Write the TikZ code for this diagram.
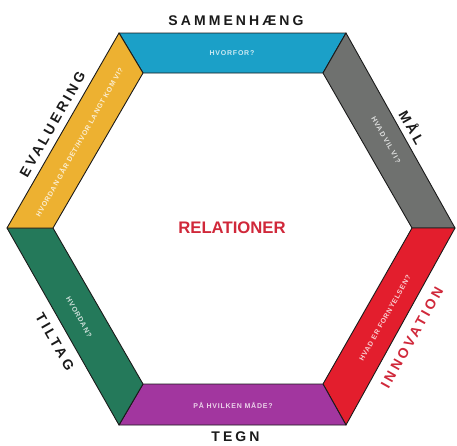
\documentclass[tikz,border=0pt]{standalone}
\usepackage{fontspec}
\setmainfont{Liberation Sans}
\newfontfamily\biglabel[LetterSpace=22]{Liberation Sans}
\newfontfamily\smalllabel[LetterSpace=11]{Liberation Sans}
\definecolor{cblue}{HTML}{1BA0C8}
\definecolor{cgray}{HTML}{6F716F}
\definecolor{cred}{HTML}{E31E2D}
\definecolor{cpurple}{HTML}{A2369F}
\definecolor{cgreen}{HTML}{24795A}
\definecolor{cyellow}{HTML}{EDB131}
\definecolor{titlered}{HTML}{D0283A}
\definecolor{outline}{HTML}{1A1A1A}
\tikzset{
  band/.style={draw=outline, line width=0.9pt, line join=round},
  outer/.style={font=\biglabel\bfseries\fontsize{14}{14}\selectfont, text=outline, inner sep=0pt},
  inner/.style={font=\smalllabel\bfseries\fontsize{7}{7}\selectfont, inner sep=0pt},
}
\begin{document}
\begin{tikzpicture}[x=1pt,y=-1pt]
\useasboundingbox (0,0) rectangle (457,445);
% outer vertices
\coordinate (O1) at (119,33);
\coordinate (O2) at (346,33);
\coordinate (O3) at (455,228);
\coordinate (O4) at (346,425);
\coordinate (O5) at (119,425);
\coordinate (O6) at (7,228);
% inner vertices
\coordinate (I1) at (143,73);
\coordinate (I2) at (323,73);
\coordinate (I3) at (412,228);
\coordinate (I4) at (323,384);
\coordinate (I5) at (143,384);
\coordinate (I6) at (53,228);
% bands
\filldraw[band, fill=cblue]   (O1) -- (O2) -- (I2) -- (I1) -- cycle;
\filldraw[band, fill=cgray]   (O2) -- (O3) -- (I3) -- (I2) -- cycle;
\filldraw[band, fill=cred]    (O3) -- (O4) -- (I4) -- (I3) -- cycle;
\filldraw[band, fill=cpurple] (O4) -- (O5) -- (I5) -- (I4) -- cycle;
\filldraw[band, fill=cgreen]  (O5) -- (O6) -- (I6) -- (I5) -- cycle;
\filldraw[band, fill=cyellow] (O6) -- (O1) -- (I1) -- (I6) -- cycle;
% band texts
\node[inner, text=white!78!cblue] (tblue) at (232,53) {HVORFOR?};
\node[inner, text=white!78!cgray, rotate=-60.5] (tgray) at (386,140) {HVAD VIL VI?};
\node[inner, text=white!78!cred, rotate=60.5] (tred) at (385,318) {HVAD ER FORNYELSEN?};
\node[inner, text=white!78!cpurple] (tpurple) at (233,405) {PÅ HVILKEN MÅDE?};
\node[inner, text=white!78!cgreen, rotate=-60.5] (tgreen) at (79,317) {HVORDAN?};
\node[inner, text=white!78!cyellow, rotate=60.5] (tyellow) at (79,142) {HVORDAN GÅR DET/HVOR LANGT KOM VI?};
% outer labels
\node[outer] (lsam) at (236,21) {SAMMENHÆNG};
\node[outer] (ltegn) at (235.5,437) {TEGN};
\node[outer, rotate=-60.8] (lmaal) at (412.5,127) {MÅL};
\node[outer, text=titlered, rotate=60.8] (linno) at (412,337.5) {INNOVATION};
\node[outer, rotate=60.3] (leval) at (52.5,124.5) {EVALUERING};
\node[outer, rotate=-60.3] (ltilt) at (55,341.7) {TILTAG};
% centre
\node[font=\bfseries\fontsize{16.7}{17}\selectfont, text=titlered, inner sep=0pt] (rel) at (232,228) {RELATIONER};
\end{tikzpicture}
\end{document}
